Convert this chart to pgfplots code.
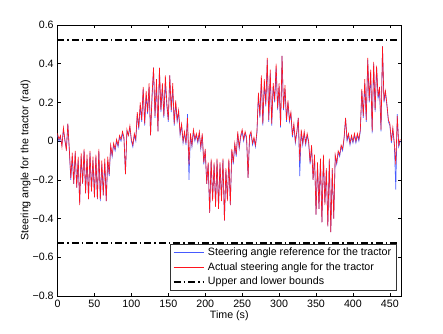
\documentclass[border=0pt]{standalone}
\usepackage{fontspec}
\setmainfont{Liberation Sans}
\usepackage{pgfplots}
\pgfplotsset{compat=1.18}
\definecolor{refblue}{RGB}{70,90,255}
\definecolor{actred}{RGB}{255,20,30}

% steering reference (blue) and measured steering angle (red), rad
\pgfplotstableread{
t v
0 0.03
2 0.00
4 0.02
6 -0.02
8 0.06
10 0.00
12 -0.04
14 0.09
16 -0.05
18 -0.20
20 -0.08
22 -0.22
24 -0.06
26 -0.24
28 -0.10
30 -0.32
32 -0.08
34 -0.22
36 -0.05
38 -0.27
40 -0.09
42 -0.30
44 -0.06
46 -0.26
48 -0.10
50 -0.29
52 -0.08
54 -0.30
56 -0.05
58 -0.31
60 -0.12
62 -0.28
64 -0.11
66 -0.31
68 -0.10
70 -0.18
72 -0.03
74 -0.08
76 -0.02
78 -0.05
80 0.00
82 -0.03
84 0.02
86 0.00
88 0.04
90 0.01
92 -0.17
94 0.05
96 0.03
98 0.07
100 0.00
102 -0.03
104 0.03
106 0.00
108 0.14
110 0.06
112 0.18
114 0.10
116 0.27
118 0.08
120 0.24
122 0.14
124 0.28
126 0.03
128 0.22
130 0.38
132 0.12
134 0.30
136 0.05
138 0.37
140 0.15
142 0.28
144 0.12
146 0.30
148 0.18
150 0.10
152 0.34
154 0.15
156 0.27
158 0.08
160 0.20
162 0.10
164 0.15
166 0.03
168 0.08
170 -0.01
172 0.04
174 -0.02
176 0.14
178 -0.20
180 0.03
182 -0.03
184 0.05
186 0.00
188 0.03
190 -0.01
192 0.04
194 -0.04
196 0.03
198 -0.12
200 -0.05
202 -0.22
204 -0.12
206 -0.37
208 -0.10
210 -0.30
212 -0.12
214 -0.33
216 -0.10
218 -0.35
220 -0.12
222 -0.30
224 -0.10
226 -0.41
228 -0.15
230 -0.30
232 -0.10
234 -0.33
236 -0.05
238 -0.12
240 -0.02
242 -0.08
244 0.04
246 -0.04
248 0.02
250 0.05
252 0.00
254 0.04
256 0.01
258 -0.19
260 0.02
262 0.04
264 -0.02
266 0.01
268 -0.03
270 0.04
272 0.24
274 0.12
276 0.32
278 0.08
280 0.30
282 0.18
284 0.42
286 0.10
288 0.35
290 0.08
292 0.28
294 0.20
296 0.38
298 0.16
300 0.28
302 0.07
304 0.44
306 0.16
308 0.27
310 0.10
312 0.20
314 0.10
316 0.14
318 0.02
320 0.08
322 -0.01
324 0.04
326 0.12
328 -0.18
330 0.05
332 -0.02
334 0.04
336 -0.02
338 0.03
340 -0.01
342 -0.12
344 -0.03
346 -0.20
348 -0.08
350 -0.38
352 -0.12
354 -0.35
356 -0.10
358 -0.42
360 -0.08
362 -0.32
364 -0.15
366 -0.44
368 -0.10
370 -0.47
372 -0.15
374 -0.40
376 -0.08
378 -0.12
380 -0.06
382 -0.08
384 -0.03
386 -0.05
388 0.01
390 0.12
392 0.00
394 0.03
396 -0.02
398 0.02
400 -0.01
402 0.03
404 -0.01
406 0.03
408 0.00
410 0.05
412 0.26
414 0.12
416 0.30
418 0.10
420 0.42
422 0.20
424 0.35
426 0.04
428 0.40
430 0.15
432 0.38
434 0.22
436 0.26
438 0.05
440 0.49
442 0.20
444 0.25
446 0.18
448 0.10
450 0.08
452 -0.01
454 0.06
456 -0.02
458 -0.25
460 0.14
462 -0.03
464 0.00
}\reftable

\pgfplotstableread{
t v
0 0.04
2 0.01
4 0.03
6 -0.03
8 0.07
10 0.01
12 -0.05
14 0.09
16 -0.04
18 -0.19
20 -0.06
22 -0.22
24 -0.05
26 -0.24
28 -0.08
30 -0.33
32 -0.06
34 -0.22
36 -0.04
38 -0.27
40 -0.07
42 -0.30
44 -0.05
46 -0.26
48 -0.08
50 -0.29
52 -0.07
54 -0.30
56 -0.04
58 -0.30
60 -0.10
62 -0.28
64 -0.09
66 -0.31
68 -0.08
70 -0.17
72 -0.02
74 -0.07
76 -0.01
78 -0.04
80 0.01
82 -0.02
84 0.03
86 0.01
88 0.05
90 0.02
92 -0.17
94 0.06
96 0.03
98 0.08
100 0.01
102 -0.02
104 0.04
106 0.01
108 0.15
110 0.07
112 0.20
114 0.11
116 0.28
118 0.09
120 0.26
122 0.15
124 0.30
126 0.03
128 0.24
130 0.38
132 0.13
134 0.32
136 0.05
138 0.38
140 0.16
142 0.30
144 0.13
146 0.34
148 0.20
150 0.11
152 0.34
154 0.16
156 0.30
158 0.09
160 0.21
162 0.11
164 0.16
166 0.04
168 0.09
170 0.00
172 0.05
174 -0.01
176 0.12
178 -0.12
180 0.04
182 -0.02
184 0.06
186 0.01
188 0.04
190 0.00
192 0.05
194 -0.03
196 0.04
198 -0.11
200 -0.04
202 -0.22
204 -0.11
206 -0.37
208 -0.09
210 -0.31
212 -0.11
214 -0.34
216 -0.09
218 -0.35
220 -0.11
222 -0.31
224 -0.09
226 -0.41
228 -0.14
230 -0.31
232 -0.09
234 -0.33
236 -0.04
238 -0.11
240 -0.01
242 -0.07
244 0.05
246 -0.03
248 0.03
250 0.06
252 0.01
254 0.05
256 0.02
258 -0.19
260 0.03
262 0.05
264 -0.01
266 0.02
268 -0.02
270 0.05
272 0.25
274 0.13
276 0.34
278 0.09
280 0.32
282 0.19
284 0.43
286 0.11
288 0.37
290 0.09
292 0.30
294 0.21
296 0.40
298 0.17
300 0.30
302 0.08
304 0.44
306 0.17
308 0.29
310 0.11
312 0.21
314 0.11
316 0.15
318 0.03
320 0.09
322 0.00
324 0.05
326 0.12
328 -0.10
330 0.06
332 -0.01
334 0.05
336 -0.01
338 0.04
340 0.00
342 -0.11
344 -0.02
346 -0.20
348 -0.07
350 -0.38
352 -0.11
354 -0.35
356 -0.09
358 -0.42
360 -0.07
362 -0.33
364 -0.14
366 -0.44
368 -0.09
370 -0.47
372 -0.14
374 -0.40
376 -0.07
378 -0.11
380 -0.05
382 -0.07
384 -0.02
386 -0.04
388 0.02
390 0.12
392 0.01
394 0.04
396 -0.01
398 0.03
400 0.00
402 0.04
404 0.00
406 0.04
408 0.01
410 0.06
412 0.27
414 0.13
416 0.32
418 0.11
420 0.43
422 0.21
424 0.37
426 0.05
428 0.41
430 0.16
432 0.39
434 0.23
436 0.28
438 0.06
440 0.49
442 0.21
444 0.26
446 0.19
448 0.11
450 0.09
452 0.00
454 0.07
456 -0.01
458 -0.12
460 0.13
462 -0.02
464 0.01
}\acttable

\begin{document}
\begin{tikzpicture}
\fontsize{8}{9.6}\selectfont
\path[use as bounding box] (-43.125pt,-27.75pt) rectangle (289.125pt,222pt);
\begin{axis}[
    scale only axis,
    width=257.6pt, height=203.25pt,
    xmin=0, xmax=465,
    ymin=-0.8, ymax=0.6,
    xtick={0,50,...,450},
    xticklabels={0,50,100,150,200,250,300,350,400,450},
    ytick={-0.8,-0.6,-0.4,-0.2,0,0.2,0.4,0.6},
    yticklabels={−0.8,−0.6,−0.4,−0.2,0,0.2,0.4,0.6},
    tick align=inside,
    major tick length=2.5pt,
    tick style={black, line width=0.4pt},
    axis line style={black, line width=0.5pt},
    ticklabel style={font=\fontsize{8}{9.6}\selectfont},
    label style={font=\fontsize{8}{9.6}\selectfont},
    xlabel={Time (s)},
    ylabel={Steering angle for the tractor (rad)},
    xlabel style={yshift=3pt},
    ylabel style={yshift=-4pt},
    legend style={at={(0.988,0.018)}, anchor=south east,
        draw=black!80, line width=0.5pt, fill=white,
        font=\fontsize{8}{9.6}\selectfont,
        inner xsep=2pt, inner ysep=1.2pt, row sep=-0.1pt},
    legend cell align=left,
    legend image code/.code={\draw[#1, line width=0.8pt] (0pt,0pt) -- (23pt,0pt);},
]
\addplot[refblue, line width=0.45pt] table[x=t, y=v] {\reftable};
\addlegendentry{Steering angle reference for the tractor}
\addplot[actred, line width=0.45pt] table[x=t, y=v] {\acttable};
\addlegendentry{Actual steering angle for the tractor}
\addplot[black, line width=1.5pt, dash pattern=on 5.25pt off 2.25pt on 1.1pt off 2.25pt,
    legend image code/.code={\draw[black, line width=1.5pt, dash pattern=on 5.25pt off 2.25pt on 1.1pt off 2.25pt] (0pt,0pt) -- (23pt,0pt);}]
    coordinates {(0,0.5236) (460,0.5236)};
\addlegendentry{Upper and lower bounds}
\addplot[black, line width=1.5pt, dash pattern=on 5.25pt off 2.25pt on 1.1pt off 2.25pt, forget plot]
    coordinates {(0,-0.5236) (460,-0.5236)};
\end{axis}
\end{tikzpicture}
\end{document}
